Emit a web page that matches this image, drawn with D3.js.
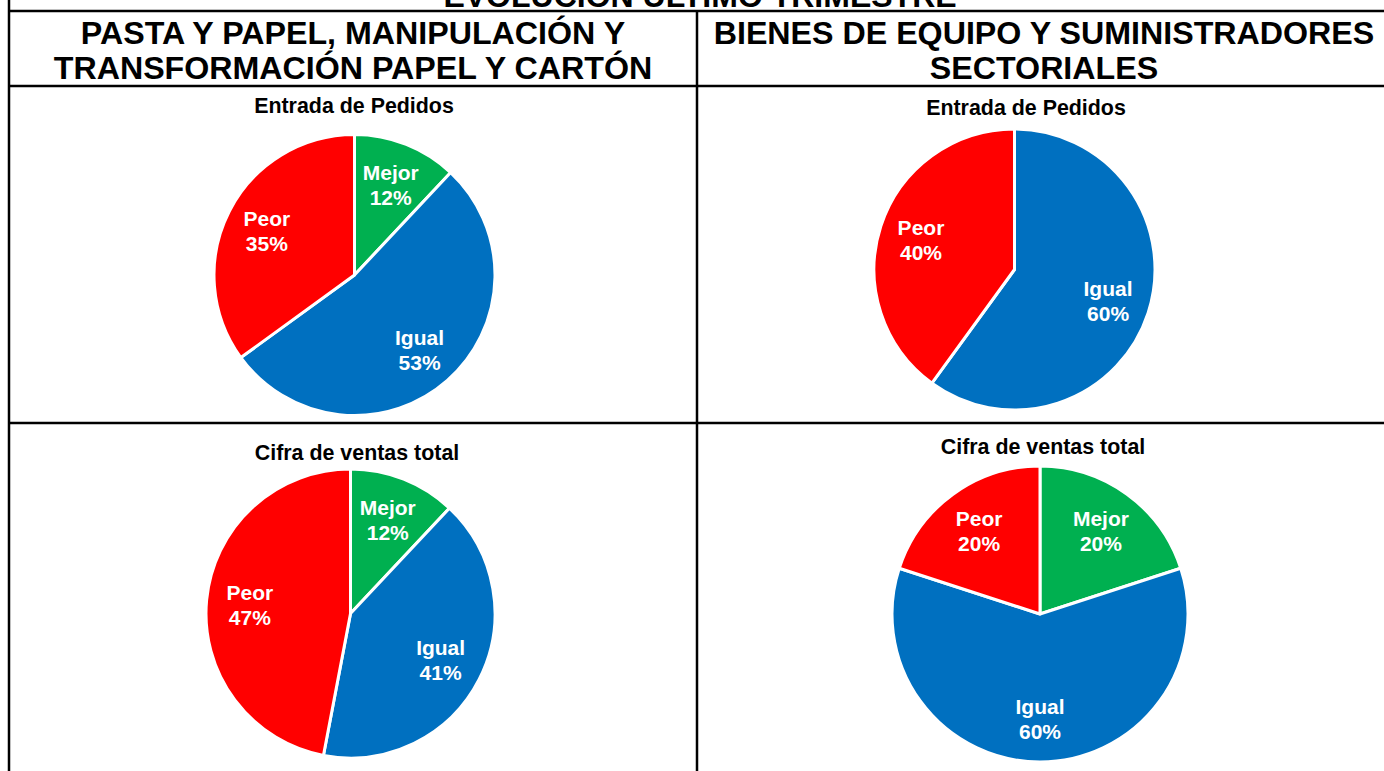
<!DOCTYPE html>
<html>
<head>
<meta charset="utf-8">
<script src="https://cdn.jsdelivr.net/npm/d3@7"></script>
<style>
    body { margin: 0; background: #fff; }
    text { font-family: "Liberation Sans", Arial, sans-serif; font-weight: bold; }
</style>
</head>
<body>
<div id="chart"></div>
<script>
// data
var categories = ["Mejor", "Igual", "Peor"];
var sliceColors = ["#00B050", "#0070C0", "#FF0000"];

var pastaPedidos = [12, 53, 35];
var pastaVentas = [12, 41, 47];
var bienesPedidos = [0, 60, 40];
var bienesVentas = [20, 60, 20];

var mainTitle = "EVOLUCIÓN ÚLTIMO TRIMESTRE";
var leftHeader = ["PASTA Y PAPEL, MANIPULACIÓN Y", "TRANSFORMACIÓN PAPEL Y CARTÓN"];
var rightHeader = ["BIENES DE EQUIPO Y SUMINISTRADORES", "SECTORIALES"];

function init() {
    var w = 1384;
    var h = 771;

    var svg = d3.select("#chart")
        .append("svg")
        .attr("width", w)
        .attr("height", h);

    // table grid
    var grid = svg.append("g").attr("stroke", "#000").attr("stroke-width", 2.5);
    grid.append("line").attr("x1", 9).attr("y1", 0).attr("x2", 9).attr("y2", h);
    grid.append("line").attr("x1", 697).attr("y1", 11).attr("x2", 697).attr("y2", h);
    grid.append("line").attr("x1", 9).attr("y1", 11).attr("x2", w).attr("y2", 11);
    grid.append("line").attr("x1", 9).attr("y1", 86).attr("x2", w).attr("y2", 86);
    grid.append("line").attr("x1", 9).attr("y1", 423).attr("x2", w).attr("y2", 423);

    // headers (top title row is cut off by the page edge, as in the source)
    svg.append("text")
        .attr("x", 700).attr("y", 7)
        .attr("text-anchor", "middle")
        .style("font-size", "32px")
        .text(mainTitle);

    function header(lines, cx) {
        svg.append("g").selectAll("text")
            .data(lines)
            .enter().append("text")
            .attr("x", cx)
            .attr("y", function(d, i) { return 44 + i * 35; })
            .attr("text-anchor", "middle")
            .style("font-size", "32.2px")
            .text(function(d) { return d; });
    }
    header(leftHeader, 353);
    header(rightHeader, 1044);

    var pie = d3.pie().sort(null).value(function(d) { return d; });

    function drawPie(values, title, cx, cy, r, tx, ty) {
        svg.append("text")
            .attr("x", tx).attr("y", ty)
            .attr("text-anchor", "middle")
            .style("font-size", "21.4px")
            .text(title);

        var g = svg.append("g").attr("transform", "translate(" + cx + "," + cy + ")");
        var arc = d3.arc().innerRadius(0).outerRadius(r);
        var labelArc = d3.arc().innerRadius(r * 0.7).outerRadius(r * 0.7);

        var slices = pie(values).filter(function(d) { return d.value > 0; });

        g.selectAll("path")
            .data(slices)
            .enter().append("path")
            .attr("d", arc)
            .attr("fill", function(d) { return sliceColors[d.index]; })
            .attr("stroke", "#fff")
            .attr("stroke-width", 3)
            .attr("stroke-linejoin", "round");

        var labels = g.selectAll("text.lbl")
            .data(slices)
            .enter().append("text")
            .attr("class", "lbl")
            .attr("text-anchor", "middle")
            .attr("fill", "#fff")
            .style("font-size", "21px")
            .attr("transform", function(d) { return "translate(" + labelArc.centroid(d) + ")"; });

        labels.append("tspan").attr("x", 0).attr("y", -4)
            .text(function(d) { return categories[d.index]; });
        labels.append("tspan").attr("x", 0).attr("y", 21)
            .text(function(d) { return d.value + "%"; });
    }

    drawPie(pastaPedidos, "Entrada de Pedidos", 354.5, 275, 140.5, 354, 113);
    drawPie(bienesPedidos, "Entrada de Pedidos", 1014.5, 269.5, 140.5, 1026, 115);
    drawPie(pastaVentas, "Cifra de ventas total", 350.5, 613.5, 144.5, 357, 460);
    drawPie(bienesVentas, "Cifra de ventas total", 1040, 614, 148, 1043, 454);
}

window.onload = init;
</script>
</body>
</html>
